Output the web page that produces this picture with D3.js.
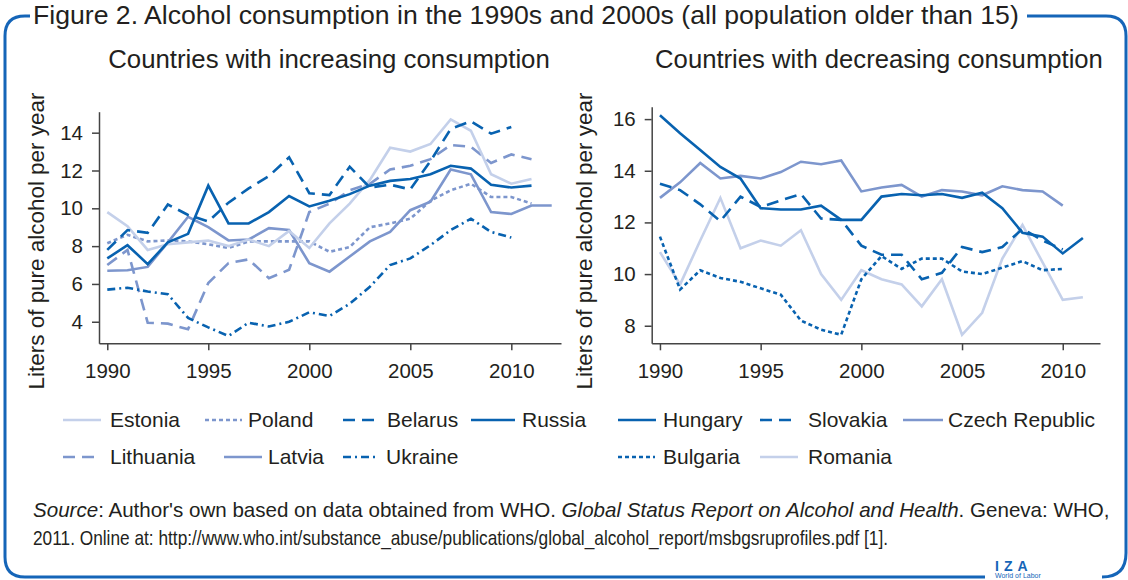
<!DOCTYPE html>
<html>
<head>
<meta charset="utf-8">
<script src="https://cdnjs.cloudflare.com/ajax/libs/d3/7.8.5/d3.min.js"></script>
<style>
  body { margin: 0; background: #fff; }
  svg text { font-family: "Liberation Sans", Arial, sans-serif; fill: #231f20; }
</style>
</head>
<body>
<svg id="chart" width="1128" height="580"></svg>
<script>
// years
var yearsInc = [1990, 1991, 1992, 1993, 1994, 1995, 1996, 1997, 1998, 1999, 2000, 2001,
                2002, 2003, 2004, 2005, 2006, 2007, 2008, 2009, 2010, 2011, 2012];
var yearsDec = [1990, 1991, 1992, 1993, 1994, 1995, 1996, 1997, 1998, 1999, 2000, 2001,
                2002, 2003, 2004, 2005, 2006, 2007, 2008, 2009, 2010, 2011];
var xTicks = [1990, 1995, 2000, 2005, 2010];
var yTicksInc = [4, 6, 8, 10, 12, 14];
var yTicksDec = [8, 10, 12, 14, 16];

// countries with increasing consumption (litres, from 1990)
var estonia   = [9.8, 9.05, 7.8, 8.1, 8.2, 8.3, 8.0, 8.35, 8.0, 8.8, 7.9, 9.2, 10.25, 11.5, 13.2, 13.0, 13.4, 14.7, 14.1, 11.8, 11.3, 11.55];
var poland    = [8.15, 8.6, 8.25, 8.3, 8.25, 8.1, 7.9, 8.25, 8.25, 8.25, 8.25, 7.7, 7.95, 9.0, 9.2, 9.45, 10.4, 10.95, 11.3, 10.6, 10.6, 10.25];
var belarus   = [7.8, 8.85, 8.7, 10.2, 9.65, 9.3, 10.3, 11.05, 11.7, 12.7, 10.8, 10.7, 12.2, 11.1, 11.25, 11.0, 12.5, 14.2, 14.6, 13.95, 14.3];
var russia    = [7.35, 8.05, 7.05, 8.2, 8.65, 11.2, 9.2, 9.2, 9.8, 10.65, 10.1, 10.4, 10.75, 11.2, 11.45, 11.55, 11.8, 12.25, 12.1, 11.25, 11.1, 11.2];
var lithuania = [7.0, 7.8, 3.95, 3.9, 3.6, 6.05, 7.1, 7.3, 6.3, 6.75, 9.8, 10.25, 10.95, 11.3, 12.05, 12.25, 12.6, 13.35, 13.25, 12.4, 12.85, 12.6];
var latvia    = [6.7, 6.72, 6.9, 8.2, 9.55, 9.0, 8.3, 8.35, 8.95, 8.85, 7.1, 6.65, 7.45, 8.25, 8.75, 9.9, 10.35, 12.05, 11.8, 9.8, 9.7, 10.15, 10.15];
var ukraine   = [5.7, 5.8, 5.6, 5.45, 4.2, 3.7, 3.25, 3.95, 3.75, 4.0, 4.5, 4.3, 4.95, 5.85, 7.0, 7.35, 8.05, 8.85, 9.45, 8.75, 8.45];

// countries with decreasing consumption
var hungary  = [16.15, 15.45, 14.8, 14.15, 13.7, 12.55, 12.5, 12.5, 12.65, 12.1, 12.1, 13.0, 13.1, 13.05, 13.1, 12.95, 13.15, 12.55, 11.6, 11.45, 10.8, 11.4];
var slovakia = [13.5, 13.25, 12.7, 12.05, 13.0, 12.6, 12.85, 13.1, 12.15, 12.1, 11.1, 10.75, 10.75, 9.8, 10.05, 11.05, 10.85, 11.05, 11.75, 11.3, 10.95];
var czech    = [12.95, 13.55, 14.3, 13.7, 13.8, 13.7, 13.95, 14.35, 14.25, 14.4, 13.2, 13.35, 13.45, 13.0, 13.25, 13.2, 13.05, 13.4, 13.25, 13.2, 12.65];
var bulgaria = [11.45, 9.4, 10.15, 9.85, 9.7, 9.45, 9.2, 8.2, 7.85, 7.65, 9.8, 10.7, 10.2, 10.6, 10.6, 10.1, 10.0, 10.25, 10.5, 10.15, 10.2];
var romania  = [10.85, 9.6, 11.3, 12.95, 11.0, 11.3, 11.1, 11.7, 10.0, 9.0, 10.15, 9.8, 9.6, 8.75, 9.8, 7.65, 8.5, 10.6, 11.9, 10.45, 9.0, 9.1];

var dark = "#0862b0", mid = "#7d96cd", light = "#c4d0ea", frameBlue = "#1565b8";
var LONG = "12,7", SHORT = "4,3", DASHDOT = "8,4,2,4";

var svg = d3.select("#chart");

function fitText(t, w) {
  var len = t.node().getComputedTextLength();
  var fs = parseFloat(t.style("font-size"));
  t.style("font-size", (fs * w / len) + "px");
}

// frame
var frame = d3.path();
frame.moveTo(30, 16); frame.lineTo(25, 16);
frame.quadraticCurveTo(5, 16, 5, 36);
frame.lineTo(5, 557);
frame.quadraticCurveTo(5, 577, 25, 577);
frame.lineTo(985, 577);
frame.moveTo(1102, 577);
frame.quadraticCurveTo(1126, 577, 1126, 553);
frame.lineTo(1126, 36);
frame.quadraticCurveTo(1126, 16, 1106, 16);
frame.lineTo(1027, 16);
svg.append("path").attr("d", frame.toString()).attr("fill", "none")
  .attr("stroke", frameBlue).attr("stroke-width", 3);

var title = svg.append("text").attr("x", 33).attr("y", 24).style("font-size", "21px")
  .text("Figure 2. Alcohol consumption in the 1990s and 2000s (all population older than 15)");
fitText(title, 986);

svg.append("text").attr("x", 995).attr("y", 571).style("font-size", "14px")
  .style("font-weight", "bold").style("letter-spacing", "5px").style("fill", frameBlue).text("IZA");
svg.append("text").attr("x", 995).attr("y", 578).style("font-size", "7px")
  .style("fill", frameBlue).text("World of Labor");

function drawPanel(p) {
  var x = d3.scaleLinear().domain(p.xDomain).range(p.xRange);
  var y = d3.scaleLinear().domain(p.yDomain).range(p.yRange);
  var g = svg.append("g");

  var t = g.append("text").attr("x", (p.titleX)).attr("y", 68).attr("text-anchor", "middle")
    .style("font-size", "22px").text(p.title);
  fitText(t, p.titleW);

  var yl = g.append("text").attr("transform", "translate(" + p.labelX + ",241) rotate(-90)")
    .attr("text-anchor", "middle").style("font-size", "21px").text("Liters of pure alcohol per year");
  fitText(yl, 297);

  var xa = g.append("g").attr("transform", "translate(0," + p.yRange[0] + ")")
    .call(d3.axisBottom(x).tickValues(xTicks).tickFormat(d3.format("d")).tickSize(7).tickSizeOuter(0).tickPadding(13));
  var ya = g.append("g").attr("transform", "translate(" + p.xRange[0] + ",0)")
    .call(d3.axisLeft(y).tickValues(p.yTicks).tickSize(7).tickSizeOuter(0).tickPadding(9));
  [xa, ya].forEach(function (a) {
    a.select(".domain").attr("stroke", "#444").attr("stroke-width", 1.5);
    a.selectAll(".tick line").attr("stroke", "#444").attr("stroke-width", 1.5);
    a.selectAll(".tick text").style("font-size", "20.5px").style("font-family", "Liberation Sans, Arial, sans-serif").attr("fill", "#231f20");
  });

  var line = d3.line()
    .defined(function (d) { return d[1] != null; })
    .x(function (d) { return x(d[0]); })
    .y(function (d) { return y(d[1]); });

  p.series.forEach(function (s) {
    var pts = s.values.map(function (v, i) { return [p.years[i], v]; });
    g.append("path").attr("d", line(pts)).attr("fill", "none")
      .attr("stroke", s.color).attr("stroke-width", 2.6)
      .attr("stroke-dasharray", s.dash || null);
  });

  p.series.forEach(function (s) {
    var L = s.legend;
    g.append("line").attr("x1", L[0]).attr("x2", L[1]).attr("y1", L[3] - 7).attr("y2", L[3] - 7)
      .attr("stroke", s.color).attr("stroke-width", 2.6).attr("stroke-dasharray", s.dash || null);
    g.append("text").attr("x", L[2]).attr("y", L[3]).style("font-size", "21px").text(s.name);
  });
}

drawPanel({
  title: "Countries with increasing consumption", titleX: 329, titleW: 442, labelX: 44,
  years: yearsInc, xDomain: [1989.59, 2012.46], xRange: [99, 561],
  yDomain: [2.86, 15.11], yRange: [343.3, 111.7], yTicks: yTicksInc,
  series: [
    { name: "Lithuania", values: lithuania, color: mid, dash: LONG, legend: [63, 100, 110, 464] },
    { name: "Ukraine", values: ukraine, color: dark, dash: DASHDOT, legend: [343, 377, 386, 464] },
    { name: "Latvia", values: latvia, color: mid, legend: [224, 262, 268, 464] },
    { name: "Poland", values: poland, color: mid, dash: SHORT, legend: [205, 242, 248, 427] },
    { name: "Estonia", values: estonia, color: light, legend: [63, 101, 110, 427] },
    { name: "Russia", values: russia, color: dark, legend: [471, 515, 522, 427] },
    { name: "Belarus", values: belarus, color: dark, dash: LONG, legend: [343, 377, 387, 427] }
  ]
});

drawPanel({
  title: "Countries with decreasing consumption", titleX: 879, titleW: 448, labelX: 592,
  years: yearsDec, xDomain: [1989.59, 2011.85], xRange: [651.7, 1100],
  yDomain: [7.32, 16.48], yRange: [343.3, 106.7], yTicks: yTicksDec,
  series: [
    { name: "Romania", values: romania, color: light, legend: [760, 798, 808, 464] },
    { name: "Bulgaria", values: bulgaria, color: dark, dash: SHORT, legend: [618, 655, 663, 464] },
    { name: "Czech Republic", values: czech, color: mid, legend: [903, 943, 948, 427] },
    { name: "Slovakia", values: slovakia, color: dark, dash: LONG, legend: [760, 798, 808, 427] },
    { name: "Hungary", values: hungary, color: dark, legend: [618, 656, 663, 427] }
  ]
});

var s1 = svg.append("text").attr("x", 33).attr("y", 517).style("font-size", "18px");
s1.append("tspan").style("font-style", "italic").text("Source");
s1.append("tspan").text(": Author's own based on data obtained from WHO. ");
s1.append("tspan").style("font-style", "italic").text("Global Status Report on Alcohol and Health");
s1.append("tspan").text(". Geneva: WHO,");
fitText(s1, 1077);
svg.append("text").attr("x", 33).attr("y", 545).style("font-size", s1.style("font-size"))
  .attr("textLength", 855).attr("lengthAdjust", "spacingAndGlyphs")
  .text("2011. Online at: http://www.who.int/substance_abuse/publications/global_alcohol_report/msbgsruprofiles.pdf [1].");
</script>
</body>
</html>
